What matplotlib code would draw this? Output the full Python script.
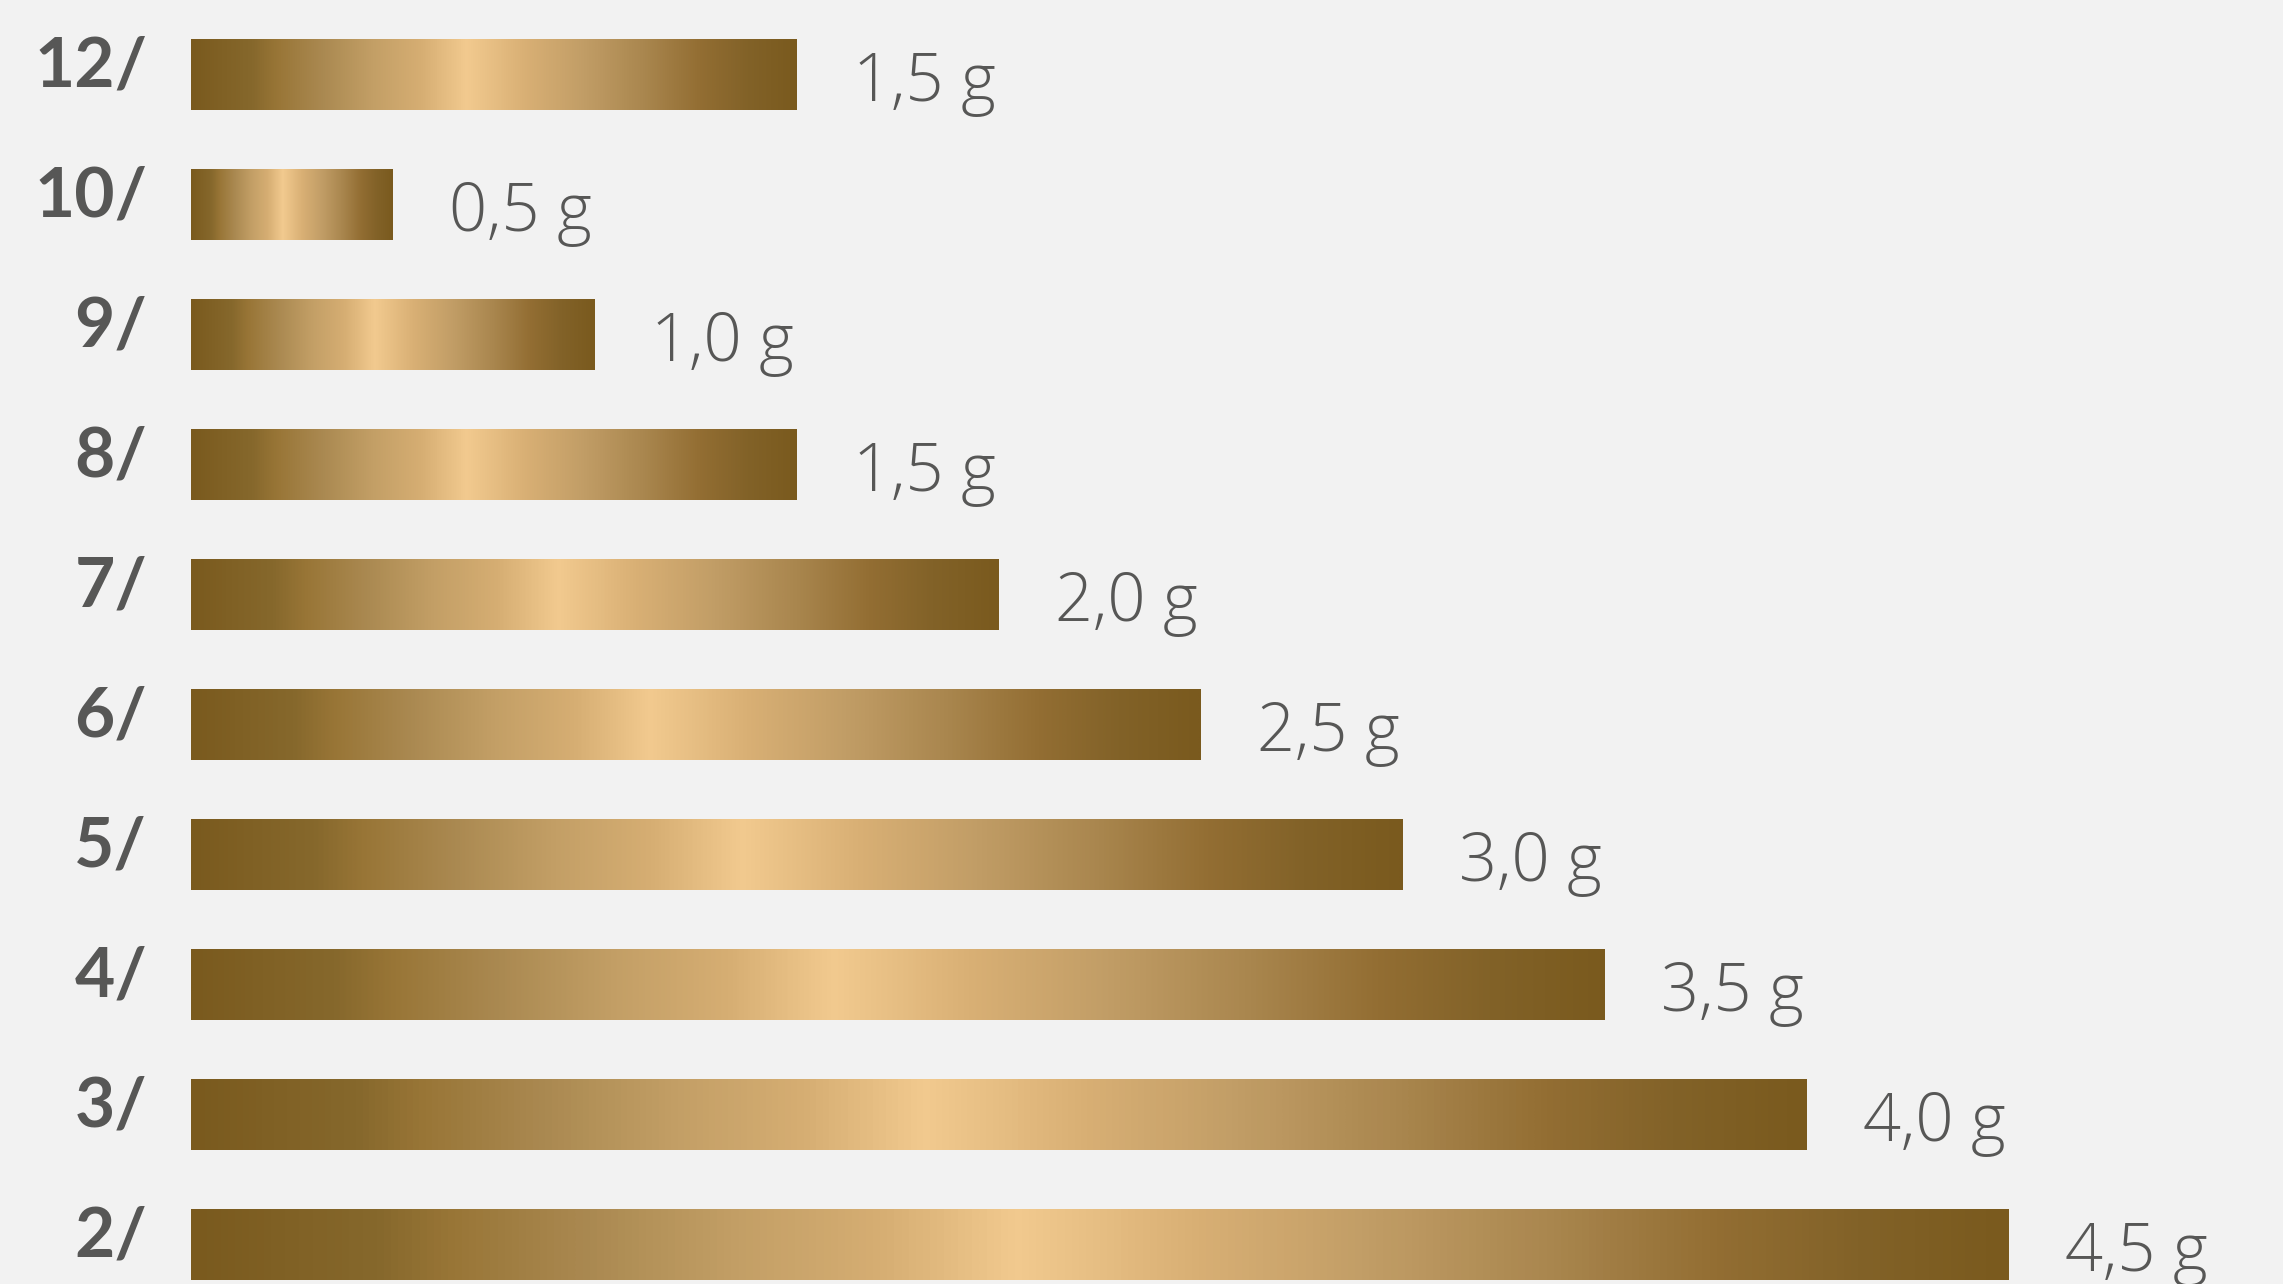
import matplotlib.pyplot as plt
import numpy as np
from matplotlib.colors import LinearSegmentedColormap

categories = ["12/", "10/", "9/", "8/", "7/", "6/", "5/", "4/", "3/", "2/"]
grams = [1.5, 0.5, 1.0, 1.5, 2.0, 2.5, 3.0, 3.5, 4.0, 4.5]
value_labels = ["1,5 g", "0,5 g", "1,0 g", "1,5 g", "2,0 g", "2,5 g", "3,0 g", "3,5 g", "4,0 g", "4,5 g"]

bg = "#f2f2f2"
textColor = "#575756"
gold = LinearSegmentedColormap.from_list("gold", [
    (0.0, "#7a5a1e"), (0.1, "#86682c"), (0.14, "#987536"), (0.22, "#ab8a52"),
    (0.3, "#c39f66"), (0.38, "#d6ae73"), (0.455, "#f2ca8f"), (0.55, "#d9b075"),
    (0.65, "#c19d66"), (0.75, "#a9864e"), (0.84, "#936e33"), (0.92, "#826228"),
    (1.0, "#7a5a1e")])

W, H, dpi = 2283, 1284, 100
fig = plt.figure(figsize=(W / dpi, H / dpi), dpi=dpi, facecolor=bg)
ax = fig.add_axes([0, 0, 1, 1])
ax.set_facecolor(bg)

# 191 px is zero, 404 px per gram; bar pitch 130 px, first centre at 74.5 px
ax.set_xlim(-191 / 404, (W - 191) / 404)
ax.set_ylim((H - 74.5) / 130, -74.5 / 130)
ax.axis("off")

ypos = np.arange(len(categories))
bars = ax.barh(ypos, grams, height=0.546, color="none", edgecolor="none")

grad = np.linspace(0, 1, 512).reshape(1, -1)
for bar in bars:
    x0, y0 = bar.get_x(), bar.get_y()
    w, h = bar.get_width(), bar.get_height()
    im = ax.imshow(grad, cmap=gold, aspect="auto", interpolation="bilinear",
                   extent=[x0, x0 + w, y0 + h, y0], zorder=2)
    im.set_clip_path(bar)

for y, g, cat, lab in zip(ypos, grams, categories, value_labels):
    ax.annotate(cat, (0, y), xytext=(-44, 14), textcoords="offset pixels",
                ha="right", va="center_baseline", fontsize=50, fontweight="bold",
                family="Lato", color=textColor)
    ax.annotate(lab, (g, y), xytext=(56, -1), textcoords="offset pixels",
                ha="left", va="center_baseline", fontsize=48, fontweight="light",
                family="Open Sans", color=textColor)

fig.savefig("out.png", dpi=dpi, facecolor=bg)
